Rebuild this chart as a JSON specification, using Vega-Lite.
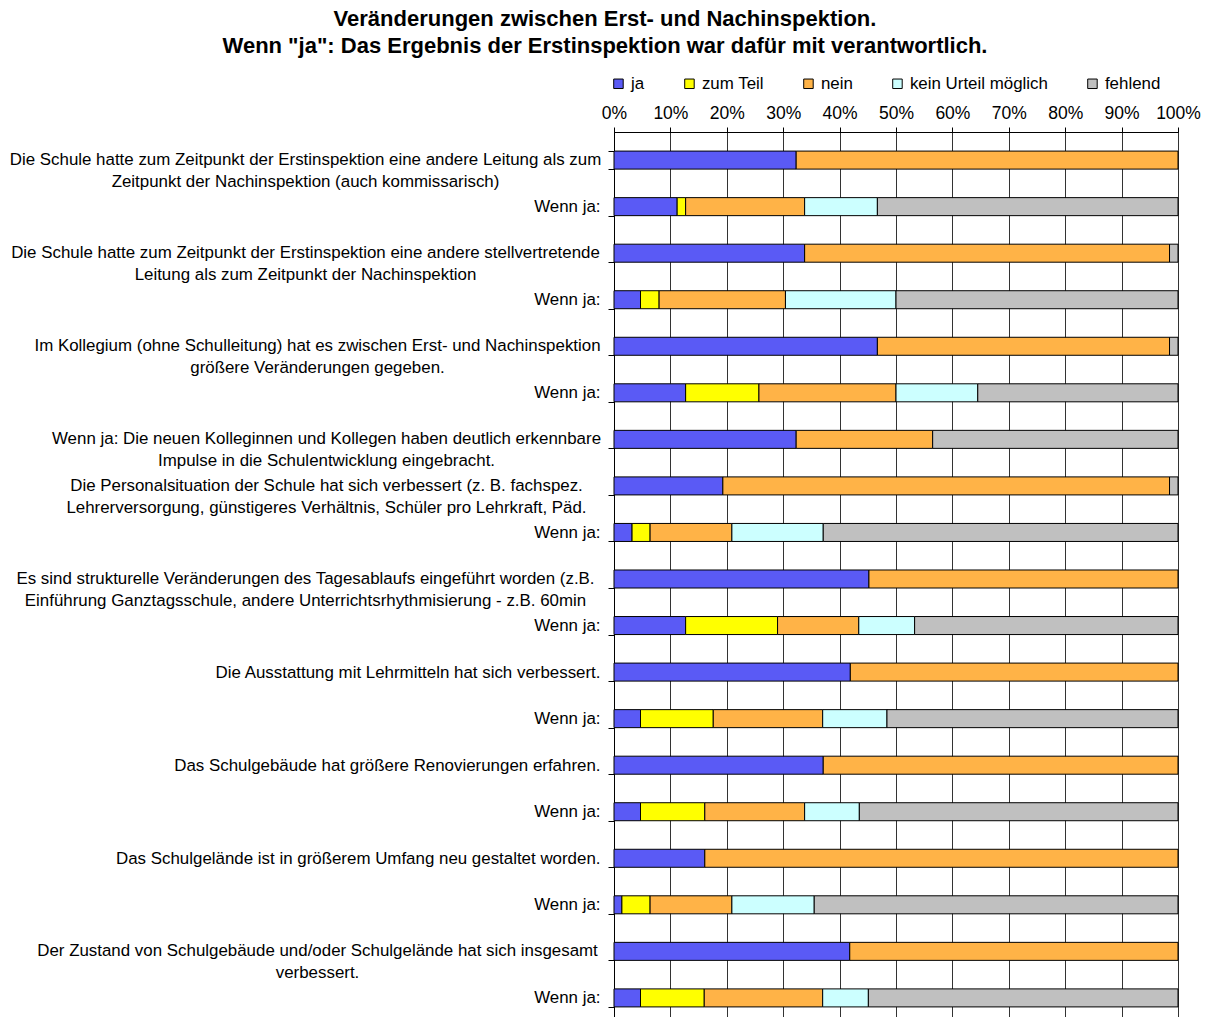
{
  "$schema": "https://vega.github.io/schema/vega-lite/v6.json",
  "autosize": {"type": "none"},
  "padding": {"left": 614, "top": 132, "right": 31, "bottom": 0},
  "width": 564,
  "height": 894,
  "background": "white",
  "title": {
    "text": ["Veränderungen zwischen Erst- und Nachinspektion.", "Wenn \"ja\": Das Ergebnis der Erstinspektion war dafür mit verantwortlich."],
    "font": "Liberation Sans",
    "fontSize": 22,
    "fontWeight": "bold",
    "lineHeight": 27,
    "color": "black",
    "anchor": "middle",
    "frame": "group",
    "dx": -291,
    "offset": 17
  },
  "config": {
    "font": "Liberation Sans",
    "view": {"stroke": "black", "strokeWidth": 1}
  },
  "data": {
    "values": [
      {"frage": "Die Schule hatte zum Zeitpunkt der Erstinspektion eine andere Leitung als zum|Zeitpunkt der Nachinspektion (auch kommissarisch)", "antwort": "ja", "wert": 32.3},
      {"frage": "Die Schule hatte zum Zeitpunkt der Erstinspektion eine andere Leitung als zum|Zeitpunkt der Nachinspektion (auch kommissarisch)", "antwort": "nein", "wert": 67.7},
      {"frage": "Wenn ja:#1", "antwort": "ja", "wert": 11.2},
      {"frage": "Wenn ja:#1", "antwort": "zum Teil", "wert": 1.5},
      {"frage": "Wenn ja:#1", "antwort": "nein", "wert": 21.1},
      {"frage": "Wenn ja:#1", "antwort": "kein Urteil möglich", "wert": 12.9},
      {"frage": "Wenn ja:#1", "antwort": "fehlend", "wert": 53.3},
      {"frage": "Die Schule hatte zum Zeitpunkt der Erstinspektion eine andere stellvertretende|Leitung als zum Zeitpunkt der Nachinspektion", "antwort": "ja", "wert": 33.8},
      {"frage": "Die Schule hatte zum Zeitpunkt der Erstinspektion eine andere stellvertretende|Leitung als zum Zeitpunkt der Nachinspektion", "antwort": "nein", "wert": 64.7},
      {"frage": "Die Schule hatte zum Zeitpunkt der Erstinspektion eine andere stellvertretende|Leitung als zum Zeitpunkt der Nachinspektion", "antwort": "fehlend", "wert": 1.5},
      {"frage": "Wenn ja:#2", "antwort": "ja", "wert": 4.7},
      {"frage": "Wenn ja:#2", "antwort": "zum Teil", "wert": 3.3},
      {"frage": "Wenn ja:#2", "antwort": "nein", "wert": 22.4},
      {"frage": "Wenn ja:#2", "antwort": "kein Urteil möglich", "wert": 19.6},
      {"frage": "Wenn ja:#2", "antwort": "fehlend", "wert": 50.0},
      {"frage": "Im Kollegium (ohne Schulleitung) hat es zwischen Erst- und Nachinspektion|größere Veränderungen gegeben.", "antwort": "ja", "wert": 46.7},
      {"frage": "Im Kollegium (ohne Schulleitung) hat es zwischen Erst- und Nachinspektion|größere Veränderungen gegeben.", "antwort": "nein", "wert": 51.8},
      {"frage": "Im Kollegium (ohne Schulleitung) hat es zwischen Erst- und Nachinspektion|größere Veränderungen gegeben.", "antwort": "fehlend", "wert": 1.5},
      {"frage": "Wenn ja:#3", "antwort": "ja", "wert": 12.7},
      {"frage": "Wenn ja:#3", "antwort": "zum Teil", "wert": 13.0},
      {"frage": "Wenn ja:#3", "antwort": "nein", "wert": 24.3},
      {"frage": "Wenn ja:#3", "antwort": "kein Urteil möglich", "wert": 14.5},
      {"frage": "Wenn ja:#3", "antwort": "fehlend", "wert": 35.5},
      {"frage": "Wenn ja: Die neuen Kolleginnen und Kollegen haben deutlich erkennbare|Impulse in die Schulentwicklung eingebracht.", "antwort": "ja", "wert": 32.3},
      {"frage": "Wenn ja: Die neuen Kolleginnen und Kollegen haben deutlich erkennbare|Impulse in die Schulentwicklung eingebracht.", "antwort": "nein", "wert": 24.2},
      {"frage": "Wenn ja: Die neuen Kolleginnen und Kollegen haben deutlich erkennbare|Impulse in die Schulentwicklung eingebracht.", "antwort": "fehlend", "wert": 43.5},
      {"frage": "Die Personalsituation der Schule hat sich verbessert (z. B. fachspez.|Lehrerversorgung, günstigeres Verhältnis, Schüler pro Lehrkraft, Päd.", "antwort": "ja", "wert": 19.3},
      {"frage": "Die Personalsituation der Schule hat sich verbessert (z. B. fachspez.|Lehrerversorgung, günstigeres Verhältnis, Schüler pro Lehrkraft, Päd.", "antwort": "nein", "wert": 79.2},
      {"frage": "Die Personalsituation der Schule hat sich verbessert (z. B. fachspez.|Lehrerversorgung, günstigeres Verhältnis, Schüler pro Lehrkraft, Päd.", "antwort": "fehlend", "wert": 1.5},
      {"frage": "Wenn ja:#4", "antwort": "ja", "wert": 3.2},
      {"frage": "Wenn ja:#4", "antwort": "zum Teil", "wert": 3.2},
      {"frage": "Wenn ja:#4", "antwort": "nein", "wert": 14.5},
      {"frage": "Wenn ja:#4", "antwort": "kein Urteil möglich", "wert": 16.2},
      {"frage": "Wenn ja:#4", "antwort": "fehlend", "wert": 62.9},
      {"frage": "Es sind strukturelle Veränderungen des Tagesablaufs eingeführt worden (z.B.|Einführung Ganztagsschule, andere Unterrichtsrhythmisierung - z.B. 60min", "antwort": "ja", "wert": 45.2},
      {"frage": "Es sind strukturelle Veränderungen des Tagesablaufs eingeführt worden (z.B.|Einführung Ganztagsschule, andere Unterrichtsrhythmisierung - z.B. 60min", "antwort": "nein", "wert": 54.8},
      {"frage": "Wenn ja:#5", "antwort": "ja", "wert": 12.7},
      {"frage": "Wenn ja:#5", "antwort": "zum Teil", "wert": 16.3},
      {"frage": "Wenn ja:#5", "antwort": "nein", "wert": 14.4},
      {"frage": "Wenn ja:#5", "antwort": "kein Urteil möglich", "wert": 9.9},
      {"frage": "Wenn ja:#5", "antwort": "fehlend", "wert": 46.7},
      {"frage": "Die Ausstattung mit Lehrmitteln hat sich verbessert.", "antwort": "ja", "wert": 41.9},
      {"frage": "Die Ausstattung mit Lehrmitteln hat sich verbessert.", "antwort": "nein", "wert": 58.1},
      {"frage": "Wenn ja:#6", "antwort": "ja", "wert": 4.7},
      {"frage": "Wenn ja:#6", "antwort": "zum Teil", "wert": 12.9},
      {"frage": "Wenn ja:#6", "antwort": "nein", "wert": 19.4},
      {"frage": "Wenn ja:#6", "antwort": "kein Urteil möglich", "wert": 11.4},
      {"frage": "Wenn ja:#6", "antwort": "fehlend", "wert": 51.6},
      {"frage": "Das Schulgebäude hat größere Renovierungen erfahren.", "antwort": "ja", "wert": 37.1},
      {"frage": "Das Schulgebäude hat größere Renovierungen erfahren.", "antwort": "nein", "wert": 62.9},
      {"frage": "Wenn ja:#7", "antwort": "ja", "wert": 4.7},
      {"frage": "Wenn ja:#7", "antwort": "zum Teil", "wert": 11.4},
      {"frage": "Wenn ja:#7", "antwort": "nein", "wert": 17.7},
      {"frage": "Wenn ja:#7", "antwort": "kein Urteil möglich", "wert": 9.7},
      {"frage": "Wenn ja:#7", "antwort": "fehlend", "wert": 56.5},
      {"frage": "Das Schulgelände ist in größerem Umfang neu gestaltet worden.", "antwort": "ja", "wert": 16.1},
      {"frage": "Das Schulgelände ist in größerem Umfang neu gestaltet worden.", "antwort": "nein", "wert": 83.9},
      {"frage": "Wenn ja:#8", "antwort": "ja", "wert": 1.4},
      {"frage": "Wenn ja:#8", "antwort": "zum Teil", "wert": 5.0},
      {"frage": "Wenn ja:#8", "antwort": "nein", "wert": 14.5},
      {"frage": "Wenn ja:#8", "antwort": "kein Urteil möglich", "wert": 14.6},
      {"frage": "Wenn ja:#8", "antwort": "fehlend", "wert": 64.5},
      {"frage": "Der Zustand von Schulgebäude und/oder Schulgelände hat sich insgesamt|verbessert.", "antwort": "ja", "wert": 41.8},
      {"frage": "Der Zustand von Schulgebäude und/oder Schulgelände hat sich insgesamt|verbessert.", "antwort": "nein", "wert": 58.2},
      {"frage": "Wenn ja:#9", "antwort": "ja", "wert": 4.7},
      {"frage": "Wenn ja:#9", "antwort": "zum Teil", "wert": 11.3},
      {"frage": "Wenn ja:#9", "antwort": "nein", "wert": 21.0},
      {"frage": "Wenn ja:#9", "antwort": "kein Urteil möglich", "wert": 8.1},
      {"frage": "Wenn ja:#9", "antwort": "fehlend", "wert": 54.9}
    ]
  },
  "transform": [
    {"calculate": "indexof(['ja', 'zum Teil', 'nein', 'kein Urteil möglich', 'fehlend'], datum.antwort)", "as": "rang"}
  ],
  "resolve": {"axis": {"y": "independent"}},
  "layer": [
    {
      "mark": {"type": "bar", "stroke": "black", "strokeWidth": 1},
      "encoding": {
        "y": {
          "field": "frage",
          "type": "nominal",
          "sort": null,
          "title": null,
          "scale": {"paddingInner": 0.613, "paddingOuter": 0.41},
          "axis": {
            "orient": "left",
            "labelExpr": "indexof(datum.label, '|') >= 0 ? '' : split(datum.label, '#')[0]",
            "labelFont": "Liberation Sans",
            "labelFontSize": 16.9,
            "labelColor": "black",
            "labelLimit": 700,
            "labelPadding": 8,
            "tickBand": "extent",
            "tickSize": 6,
            "tickColor": "black",
            "domainColor": "black",
            "grid": false
          }
        },
        "x": {
          "field": "wert",
          "type": "quantitative",
          "stack": "normalize",
          "title": null,
          "scale": {"domain": [0, 1], "nice": false},
          "axis": {
            "orient": "top",
            "format": ".0%",
            "values": [0, 0.1, 0.2, 0.3, 0.4, 0.5, 0.6, 0.7, 0.8, 0.9, 1],
            "labelFont": "Liberation Sans",
            "labelFontSize": 17.5,
            "labelColor": "black",
            "labelPadding": 5,
            "tickSize": 5,
            "tickColor": "black",
            "domainColor": "black",
            "grid": true,
            "gridColor": "#333333",
            "gridOpacity": 1,
            "labelFlush": false
          }
        },
        "color": {
          "field": "antwort",
          "type": "nominal",
          "sort": ["ja", "zum Teil", "nein", "kein Urteil möglich", "fehlend"],
          "scale": {
            "domain": ["ja", "zum Teil", "nein", "kein Urteil möglich", "fehlend"],
            "range": ["#5a5af5", "#ffff00", "#ffb347", "#ccffff", "#c0c0c0"]
          },
          "legend": {
            "title": null,
            "orient": "none",
            "legendX": -4,
            "legendY": -57,
            "direction": "horizontal",
            "columns": 5,
            "columnPadding": 36,
            "symbolType": "square",
            "symbolSize": 90,
            "symbolStrokeColor": "black",
            "symbolStrokeWidth": 1,
            "symbolOpacity": 1,
            "labelFont": "Liberation Sans",
            "labelFontSize": 16.9,
            "labelColor": "black",
            "labelOffset": 4
          }
        },
        "order": {"field": "rang", "type": "quantitative", "sort": "ascending"}
      }
    },
    {
      "mark": {"type": "point", "opacity": 0},
      "encoding": {
        "y": {
          "field": "frage",
          "type": "nominal",
          "sort": null,
          "title": null,
          "axis": {
            "orient": "left",
            "values": [
              "Die Schule hatte zum Zeitpunkt der Erstinspektion eine andere Leitung als zum|Zeitpunkt der Nachinspektion (auch kommissarisch)",
              "Die Schule hatte zum Zeitpunkt der Erstinspektion eine andere stellvertretende|Leitung als zum Zeitpunkt der Nachinspektion",
              "Es sind strukturelle Veränderungen des Tagesablaufs eingeführt worden (z.B.|Einführung Ganztagsschule, andere Unterrichtsrhythmisierung - z.B. 60min"
            ],
            "labelExpr": "split(datum.label, '|')",
            "labelAlign": "center",
            "labelFont": "Liberation Sans",
            "labelFontSize": 16.9,
            "labelColor": "black",
            "labelLimit": 700,
            "labelLineHeight": 22,
            "labelPadding": 309,
            "ticks": false,
            "domain": false,
            "grid": false
          }
        }
      }
    },
    {
      "mark": {"type": "point", "opacity": 0},
      "encoding": {
        "y": {
          "field": "frage",
          "type": "nominal",
          "sort": null,
          "title": null,
          "axis": {
            "orient": "left",
            "values": [
              "Im Kollegium (ohne Schulleitung) hat es zwischen Erst- und Nachinspektion|größere Veränderungen gegeben.",
              "Der Zustand von Schulgebäude und/oder Schulgelände hat sich insgesamt|verbessert."
            ],
            "labelExpr": "split(datum.label, '|')",
            "labelAlign": "center",
            "labelFont": "Liberation Sans",
            "labelFontSize": 16.9,
            "labelColor": "black",
            "labelLimit": 700,
            "labelLineHeight": 22,
            "labelPadding": 297,
            "ticks": false,
            "domain": false,
            "grid": false
          }
        }
      }
    },
    {
      "mark": {"type": "point", "opacity": 0},
      "encoding": {
        "y": {
          "field": "frage",
          "type": "nominal",
          "sort": null,
          "title": null,
          "axis": {
            "orient": "left",
            "values": [
              "Wenn ja: Die neuen Kolleginnen und Kollegen haben deutlich erkennbare|Impulse in die Schulentwicklung eingebracht.",
              "Die Personalsituation der Schule hat sich verbessert (z. B. fachspez.|Lehrerversorgung, günstigeres Verhältnis, Schüler pro Lehrkraft, Päd."
            ],
            "labelExpr": "split(datum.label, '|')",
            "labelAlign": "center",
            "labelFont": "Liberation Sans",
            "labelFontSize": 16.9,
            "labelColor": "black",
            "labelLimit": 700,
            "labelLineHeight": 22,
            "labelPadding": 288,
            "ticks": false,
            "domain": false,
            "grid": false
          }
        }
      }
    }
  ]
}
